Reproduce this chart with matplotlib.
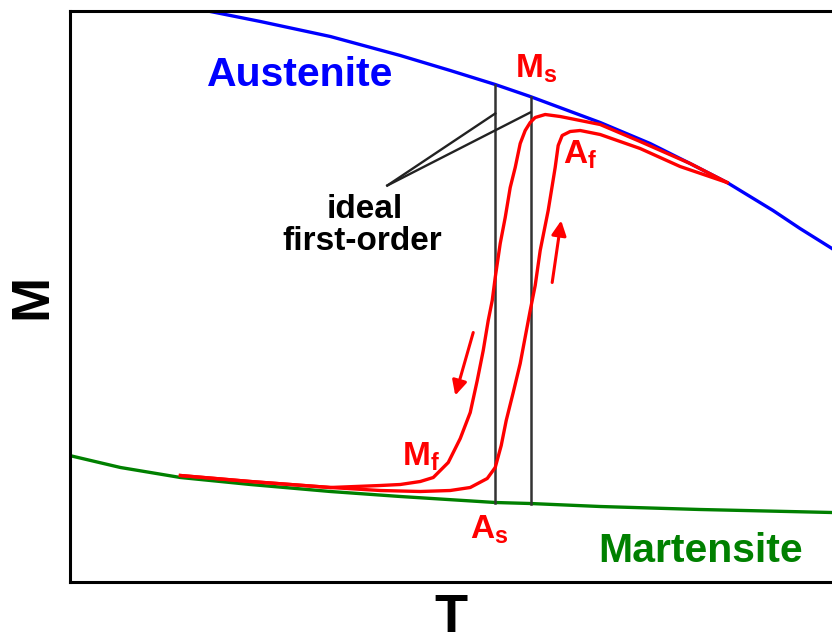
import matplotlib
matplotlib.use('Agg')
import matplotlib.pyplot as plt

plt.rcParams['font.family'] = ['Liberation Sans', 'DejaVu Sans']
plt.rcParams['font.weight'] = 'bold'
plt.rcParams['mathtext.fontset'] = 'custom'
plt.rcParams['mathtext.rm'] = 'Liberation Sans:bold'

# arbitrary units (no ticks on either axis)
T_MAX, M_MAX = 763, 571

# Austenite magnetisation branch
aus_T = [111, 136, 191, 261, 331, 381, 426, 461, 531, 581, 621, 658, 704, 731, 763, 781]
aus_M = [576, 571, 560, 545, 526, 511, 497, 485, 459, 438, 418, 399, 371, 353, 333, 320]

# Martensite magnetisation branch
mar_T = [0, 51, 111, 181, 261, 331, 426, 461, 531, 631, 763, 781]
mar_M = [126, 114, 104, 97, 90, 85, 79, 78, 75, 72, 69, 68]

# measured loop, heating (M -> A)
heat_T = [111, 181, 261, 311, 351, 381, 401, 418, 426, 432, 437, 444, 451, 461, 466,
          471, 479, 486, 489, 493, 501, 511, 531, 571, 611, 658]
heat_M = [106, 100, 94, 91, 90, 91, 94, 103, 114, 136, 161, 189, 218, 271, 296,
          331, 371, 414, 436, 446, 450, 451, 447, 433, 415, 399]

# measured loop, cooling (A -> M)
cool_T = [658, 621, 571, 531, 491, 476, 466, 461, 456, 451, 446, 441, 436, 431, 426,
          423, 419, 414, 408, 401, 391, 379, 364, 351, 331, 311, 261, 181, 111]
cool_M = [399, 418, 440, 457, 465, 467, 464, 459, 451, 438, 414, 394, 364, 338, 304,
          281, 261, 231, 201, 169, 143, 119, 104, 100, 97, 96, 94, 100, 106]

# ideal first-order transitions
ideal_T = [426, 462]
ideal_top = [497, 485]
ideal_bot = [79, 78]
pointer_from = [(426, 468), (461, 469)]
pointer_to = (318, 396)

fig = plt.figure(figsize=(8.32, 6.33), dpi=100)
ax = fig.add_axes([69.5 / 832, 51.5 / 633, 1 - 69.5 / 832, 571 / 633])
ax.set_xlim(0, T_MAX)
ax.set_ylim(0, M_MAX)
ax.set_xticks([]); ax.set_yticks([])
ax.spines['right'].set_visible(False)
for s in ['left', 'top', 'bottom']:
    ax.spines[s].set_linewidth(2.2)

ax.plot(aus_T, aus_M, color='#0000ff', lw=2.4)
ax.plot(mar_T, mar_M, color='#008000', lw=2.4)

for t, top, bot in zip(ideal_T, ideal_top, ideal_bot):
    ax.plot([t, t], [bot, top], color='#333333', lw=1.8)
for p in pointer_from:
    ax.plot([p[0], pointer_to[0]], [p[1], pointer_to[1]], color='#222222', lw=1.7)

ax.plot(heat_T, heat_M, color='#ff0000', lw=2.4, solid_joinstyle='round')
ax.plot(cool_T, cool_M, color='#ff0000', lw=2.4, solid_joinstyle='round')

arrow = dict(arrowstyle='-|>', color='#ff0000', lw=2.2, mutation_scale=22, shrinkA=0, shrinkB=0)
ax.annotate('', xy=(386, 186), xytext=(404, 249), arrowprops=arrow)
ax.annotate('', xy=(492, 361), xytext=(483, 299), arrowprops=arrow)

ax.text(138, 496, 'Austenite', color='#0000ff', fontsize=29.5, ha='left', va='baseline')
ax.text(734, 19, 'Martensite', color='#008000', fontsize=29.5, ha='right', va='baseline')

red_lbl = dict(color='#ff0000', fontsize=24, ha='left', va='baseline')
ax.text(446, 504, r'M$_\mathregular{s}$', **red_lbl)
ax.text(494, 418, r'A$_\mathregular{f}$', **red_lbl)
ax.text(333, 116, r'M$_\mathregular{f}$', **red_lbl)
ax.text(401, 43, r'A$_\mathregular{s}$', **red_lbl)

ax.text(295, 364, 'ideal', fontsize=24, ha='center', va='baseline')
ax.text(293, 332, 'first-order', fontsize=24, ha='center', va='baseline')

fig.text(32 / 832, 1 - 296 / 633, 'M', fontsize=39, rotation=90,
         ha='center', va='center')
fig.text(451 / 832, 1 / 633, 'T', fontsize=39, ha='center', va='baseline')

fig.savefig('out.png', dpi=100)
